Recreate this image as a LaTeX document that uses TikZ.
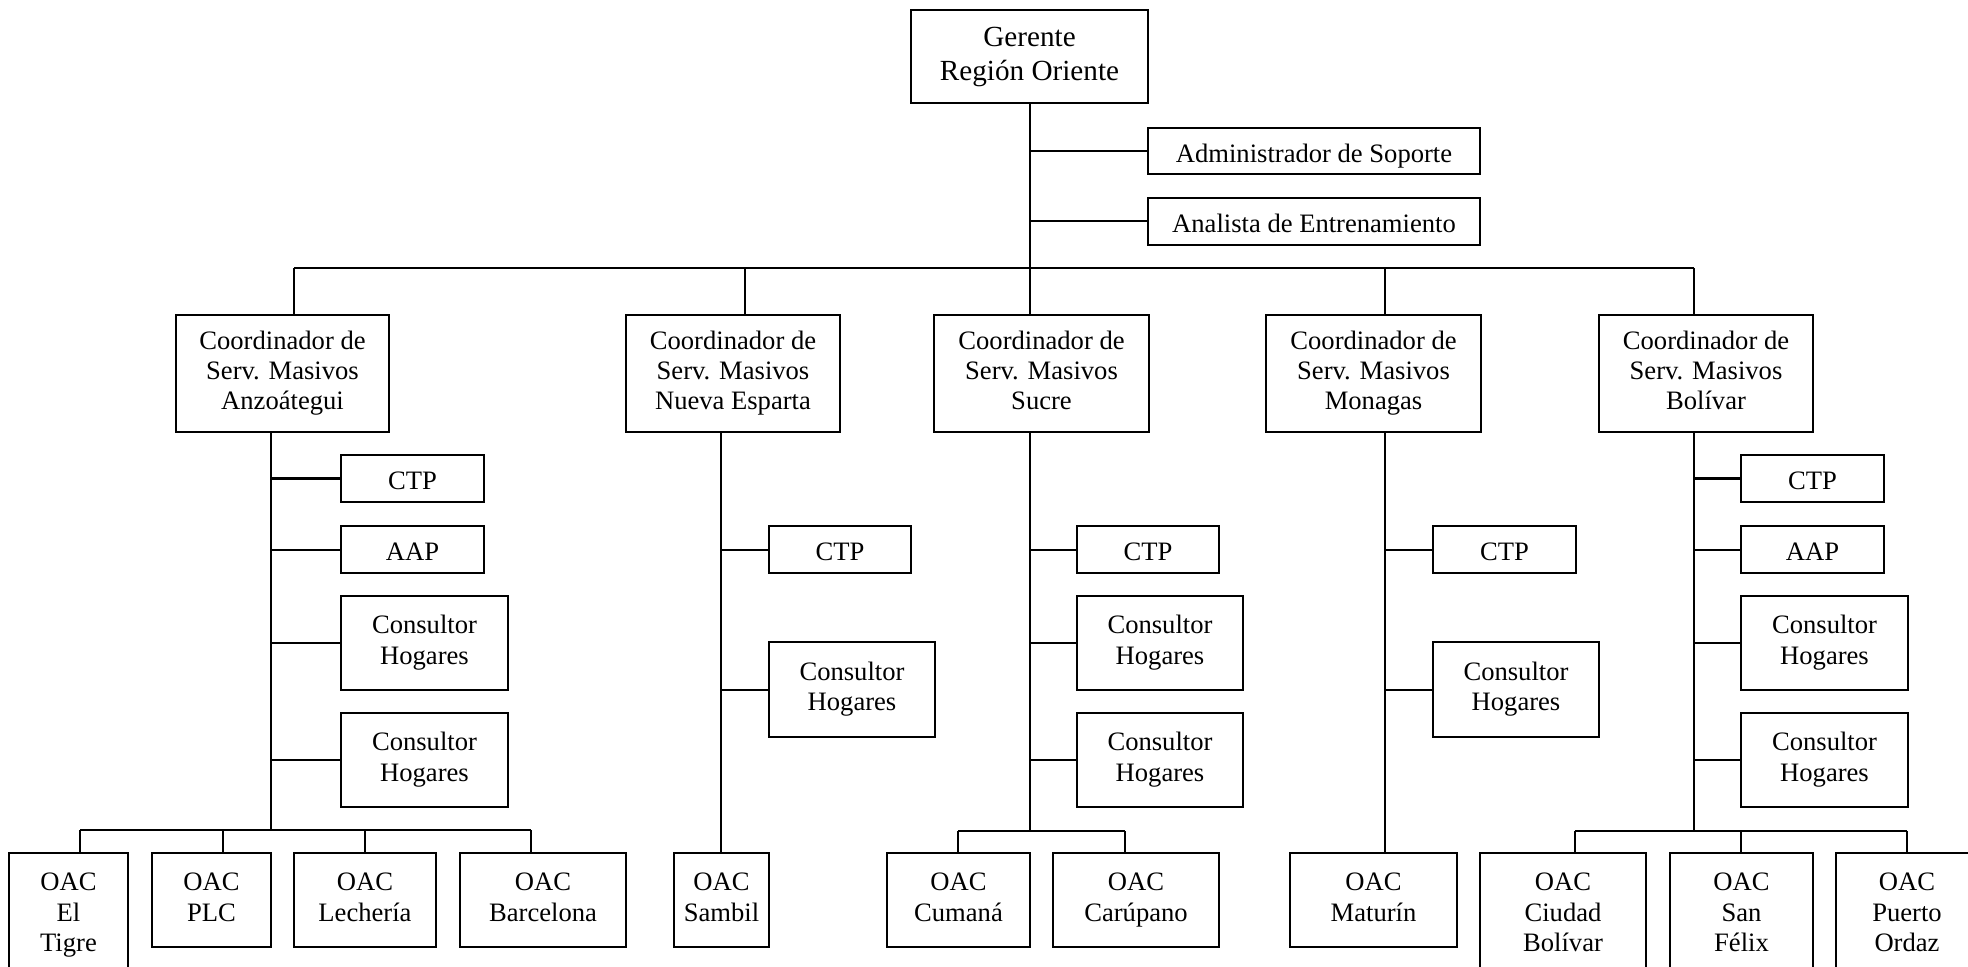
\documentclass[tikz,border=0pt]{standalone}
\usepackage{fontspec}
\setmainfont{Liberation Serif}
\tikzset{
  obx/.style={draw, line width=1pt, inner sep=0pt, align=center,
    font=\fontsize{13.3}{15.2}\selectfont},
  bigtxt/.style={font=\fontsize{14.6}{17}\selectfont},
  lnk/.style={line width=1pt}
}
\newcommand\obox[7][]{\node[obx, #1, minimum width={(#5-#3)*0.5pt}, minimum height={(#6-#4)*0.5pt}] (#2) at ({(#3+#5)/2},{(#4+#6)/2}) {\strut#7\strut};}
\newcommand\lowtxt[1]{\raisebox{-2.6pt}{#1}}
\begin{document}
\begin{tikzpicture}[x=0.5pt,y=-0.5pt]
\useasboundingbox (0,0) rectangle (1968,967);
\clip (0,0) rectangle (1968,967);
% top
\obox[bigtxt]{ger}{911}{10}{1148}{103}{Gerente\\Región Oriente}
\obox{adm}{1148}{128}{1480}{174}{\raisebox{-3.2pt}{Administrador de Soporte}}
\obox{ana}{1148}{198}{1480}{245}{\lowtxt{Analista de Entrenamiento}}
% coordinators
\obox{anz}{176}{315}{389}{432}{Coordinador de\\Serv. Masivos\\Anzoátegui}
\obox{ne}{626}{315}{840}{432}{Coordinador de\\Serv. Masivos\\Nueva Esparta}
\obox{suc}{934}{315}{1149}{432}{Coordinador de\\Serv. Masivos\\Sucre}
\obox{mon}{1266}{315}{1481}{432}{Coordinador de\\Serv. Masivos\\Monagas}
\obox{bol}{1599}{315}{1813}{432}{Coordinador de\\Serv. Masivos\\Bolívar}
% Anzoategui staff
\obox{ctpA}{341}{455}{484}{502}{\lowtxt{CTP}}
\obox{aapA}{341}{526}{484}{573}{\lowtxt{AAP}}
\obox{chA1}{341}{596}{508}{690}{Consultor\\Hogares}
\obox{chA2}{341}{713}{508}{807}{Consultor\\Hogares}
% Nueva Esparta staff
\obox{ctpN}{769}{526}{911}{573}{\lowtxt{CTP}}
\obox{chN}{769}{642}{935}{737}{Consultor\\Hogares}
% Sucre staff
\obox{ctpS}{1077}{526}{1219}{573}{\lowtxt{CTP}}
\obox{chS1}{1077}{596}{1243}{690}{Consultor\\Hogares}
\obox{chS2}{1077}{713}{1243}{807}{Consultor\\Hogares}
% Monagas staff
\obox{ctpM}{1433}{526}{1576}{573}{\lowtxt{CTP}}
\obox{chM}{1433}{642}{1599}{737}{Consultor\\Hogares}
% Bolivar staff
\obox{ctpB}{1741}{455}{1884}{502}{\lowtxt{CTP}}
\obox{aapB}{1741}{526}{1884}{573}{\lowtxt{AAP}}
\obox{chB1}{1741}{596}{1908}{690}{Consultor\\Hogares}
\obox{chB2}{1741}{713}{1908}{807}{Consultor\\Hogares}
% OAC
\obox{tigre}{9}{853}{128}{977}{OAC\\El\\Tigre}
\obox{plc}{152}{853}{271}{947}{OAC\\PLC}
\obox{lech}{294}{853}{436}{947}{OAC\\Lechería}
\obox{barc}{460}{853}{626}{947}{OAC\\Barcelona}
\obox{sambil}{674}{853}{769}{947}{OAC\\Sambil}
\obox{cuma}{887}{853}{1030}{947}{OAC\\Cumaná}
\obox{caru}{1053}{853}{1219}{947}{OAC\\Carúpano}
\obox{matu}{1290}{853}{1457}{947}{OAC\\Maturín}
\obox{cbol}{1480}{853}{1646}{977}{OAC\\Ciudad\\Bolívar}
\obox{sfel}{1670}{853}{1813}{977}{OAC\\San\\Félix}
\obox{pord}{1836}{853}{1978}{977}{OAC\\Puerto\\Ordaz}
% coordinates
\coordinate (bA) at (294,268);
\coordinate (bN) at (745,268);
\coordinate (bS) at (1029.5,268);
\coordinate (bM) at (1385,268);
\coordinate (bB) at (1694,268);
\coordinate (tA) at (271,830);
\coordinate (tN) at (721,830);
\coordinate (tS) at (1029.5,831);
\coordinate (tM) at (1385,831);
\coordinate (tB) at (1694,831);
\coordinate (oA1) at (80,830);
\coordinate (oA2) at (223,830);
\coordinate (oA3) at (365,830);
\coordinate (oA4) at (531,830);
\coordinate (oS1) at (958,831);
\coordinate (oS2) at (1125,831);
\coordinate (oB1) at (1575,831);
\coordinate (oB2) at (1741,831);
\coordinate (oB3) at (1907,831);
% top level
\draw[lnk] (ger.south) -- (bS |- suc.north);
\draw[lnk] (ger.south |- adm.west) -- (adm.west);
\draw[lnk] (ger.south |- ana.west) -- (ana.west);
\draw[lnk] (bA) -- (bB);
\draw[lnk] (bA) -- (bA |- anz.north);
\draw[lnk] (bN) -- (bN |- ne.north);
\draw[lnk] (bM) -- (bM |- mon.north);
\draw[lnk] (bB) -- (bB |- bol.north);
% Anzoategui
\draw[lnk] (tA |- anz.south) -- (tA);
\foreach \n in {ctpA,aapA,chA1,chA2} \draw[lnk] (tA |- \n.west) -- (\n.west);
\draw[lnk] (oA1) -- (oA4);
\draw[lnk] (oA1) -- (oA1 |- tigre.north);
\draw[lnk] (oA2) -- (oA2 |- plc.north);
\draw[lnk] (oA3) -- (oA3 |- lech.north);
\draw[lnk] (oA4) -- (oA4 |- barc.north);
% Nueva Esparta
\draw[lnk] (tN |- ne.south) -- (tN |- sambil.north);
\foreach \n in {ctpN,chN} \draw[lnk] (tN |- \n.west) -- (\n.west);
% Sucre
\draw[lnk] (tS |- suc.south) -- (tS);
\foreach \n in {ctpS,chS1,chS2} \draw[lnk] (tS |- \n.west) -- (\n.west);
\draw[lnk] (oS1) -- (oS2);
\draw[lnk] (oS1) -- (oS1 |- cuma.north);
\draw[lnk] (oS2) -- (oS2 |- caru.north);
% Monagas
\draw[lnk] (tM |- mon.south) -- (tM |- matu.north);
\foreach \n in {ctpM,chM} \draw[lnk] (tM |- \n.west) -- (\n.west);
% Bolivar
\draw[lnk] (tB |- bol.south) -- (tB);
\foreach \n in {ctpB,aapB,chB1,chB2} \draw[lnk] (tB |- \n.west) -- (\n.west);
\draw[lnk] (oB1) -- (oB3);
\draw[lnk] (oB1) -- (oB1 |- cbol.north);
\draw[lnk] (oB2) -- (oB2 |- sfel.north);
\draw[lnk] (oB3) -- (oB3 |- pord.north);
\end{tikzpicture}
\end{document}
